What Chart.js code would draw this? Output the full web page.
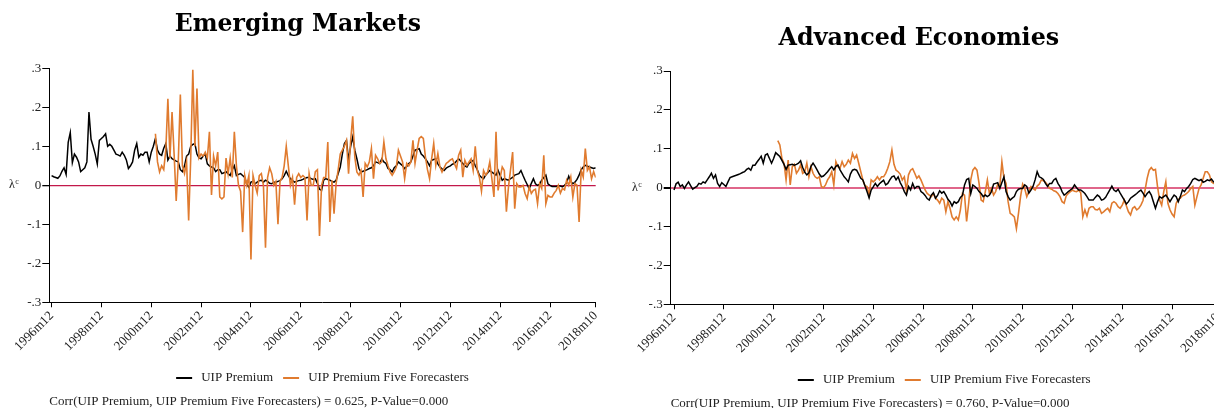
<!DOCTYPE html>
<html>
<head>
<meta charset="utf-8">
<script src="https://cdn.jsdelivr.net/npm/chart.js@4.4.1/dist/chart.umd.min.js"></script>
<style>
  html, body { margin: 0; padding: 0; background: #fff; overflow: hidden; width: 1214px; height: 408px; }
  .panel { position: absolute; top: 0; }
  #emWrap { left: 0; width: 602px; height: 408px; }
  #aeWrap { left: 620px; width: 604px; height: 410px; }
</style>
</head>
<body>
<div id="emWrap" class="panel"><canvas id="emChart"></canvas></div>
<div id="aeWrap" class="panel"><canvas id="aeChart"></canvas></div>
<script>
// Monthly series, month 0 = 1996m12, last month 262 = 2018m10
const tickMonths = [0, 24, 48, 72, 96, 120, 144, 168, 192, 216, 240, 262];
const tickLabels = ['1996m12', '1998m12', '2000m12', '2002m12', '2004m12', '2006m12',
                    '2008m12', '2010m12', '2012m12', '2014m12', '2016m12', '2018m10'];
const yTickVals = [-0.3, -0.2, -0.1, 0, 0.1, 0.2, 0.3];
const yTickText = ['-.3', '-.2', '-.1', '0', '.1', '.2', '.3'];
const seriesNames = ['UIP Premium', 'UIP Premium Five Forecasters'];
const fiveStart = 50; // survey-based series begins in 2001m2

// Emerging markets
const emPremium = [
  0.025,0.022,0.020,0.018,0.024,0.036,0.045,0.028,0.110,0.135,0.058,0.080,
  0.072,0.060,0.035,0.040,0.045,0.060,0.188,0.118,0.100,0.080,0.055,0.115,
  0.120,0.125,0.132,0.100,0.105,0.100,0.090,0.080,0.078,0.075,0.085,0.077,
  0.065,0.043,0.050,0.060,0.090,0.107,0.072,0.080,0.077,0.085,0.085,0.060,
  0.085,0.100,0.120,0.090,0.080,0.077,0.095,0.107,0.065,0.075,0.068,0.065,
  0.062,0.060,0.040,0.035,0.050,0.075,0.080,0.100,0.105,0.107,0.080,0.070,
  0.068,0.075,0.080,0.055,0.050,0.047,0.045,0.035,0.040,0.040,0.030,0.032,
  0.035,0.030,0.025,0.040,0.050,0.025,0.028,0.030,0.025,0.020,0.002,-0.005,
  0.008,0.010,0.004,0.008,0.012,0.013,0.008,0.013,0.010,0.005,0.004,0.008,
  0.008,0.010,0.012,0.017,0.025,0.036,0.025,0.017,0.012,0.008,0.010,0.012,
  0.013,0.015,0.018,0.020,0.020,0.017,0.015,0.017,0.005,-0.010,-0.013,0.013,
  0.017,0.015,0.013,0.010,0.008,0.013,0.030,0.047,0.080,0.107,0.115,0.064,
  0.100,0.124,0.090,0.068,0.043,0.034,0.036,0.038,0.040,0.043,0.045,0.050,
  0.060,0.058,0.056,0.068,0.060,0.056,0.043,0.040,0.034,0.045,0.050,0.060,
  0.055,0.050,0.043,0.048,0.056,0.060,0.075,0.090,0.092,0.094,0.080,0.075,
  0.068,0.060,0.050,0.064,0.066,0.068,0.055,0.047,0.042,0.038,0.044,0.047,
  0.050,0.054,0.056,0.062,0.068,0.062,0.056,0.050,0.047,0.056,0.060,0.064,
  0.050,0.040,0.026,0.020,0.017,0.026,0.032,0.038,0.034,0.030,0.026,0.038,
  0.025,0.013,0.017,0.015,0.013,0.017,0.020,0.026,0.028,0.030,0.038,0.025,
  0.013,0.002,-0.009,0.005,0.017,0.004,0.000,0.003,0.013,0.020,0.026,0.004,
  0.000,-0.003,-0.003,-0.003,-0.001,-0.002,-0.004,0.000,0.006,0.023,0.010,0.004,
  0.008,0.015,0.026,0.040,0.047,0.051,0.049,0.047,0.045,0.043,0.045
];
const emFive = [
  0.132,0.060,0.034,0.050,0.040,0.090,0.222,0.070,0.188,0.080,
  -0.040,0.060,0.233,0.050,0.030,0.060,-0.090,0.070,0.296,0.100,
  0.248,0.070,0.080,0.075,0.085,0.070,0.137,-0.025,0.075,0.050,
  0.085,-0.030,-0.035,-0.030,0.070,0.030,0.070,0.020,0.137,0.050,
  0.000,-0.015,-0.120,0.025,0.000,0.025,-0.190,0.025,0.000,-0.020,
  0.025,0.030,0.000,-0.160,0.020,0.045,0.030,0.000,0.010,-0.100,
  0.010,0.020,0.050,0.100,0.050,0.000,0.020,-0.050,0.020,0.030,
  0.020,0.025,0.020,-0.090,0.030,0.000,0.000,0.035,0.040,-0.130,
  0.000,0.020,0.020,0.111,-0.094,0.013,-0.073,0.004,0.040,0.080,
  0.090,0.100,0.115,0.030,0.115,0.177,0.073,0.034,0.026,0.038,
  -0.030,0.056,0.047,0.060,0.094,0.017,0.077,0.068,0.056,0.060,
  0.111,0.068,0.050,0.034,0.026,0.035,0.047,0.090,0.075,0.060,
  0.017,0.056,0.050,0.060,0.115,0.056,0.090,0.120,0.125,0.120,
  0.073,0.040,0.017,0.068,0.107,0.051,0.081,0.047,0.034,0.045,
  0.056,0.060,0.065,0.068,0.055,0.043,0.077,0.090,0.021,0.064,
  0.051,0.060,0.068,0.038,0.100,0.038,0.020,-0.015,0.038,0.026,
  0.034,0.060,0.017,-0.030,0.137,-0.013,0.020,0.047,0.038,-0.068,
  -0.004,0.040,0.085,-0.060,0.004,-0.004,-0.004,0.000,-0.021,-0.034,
  -0.004,-0.021,-0.013,-0.010,-0.047,0.004,-0.008,0.077,-0.047,-0.026,
  -0.030,-0.030,-0.020,-0.013,0.000,-0.020,-0.008,-0.012,0.013,0.000,
  0.021,-0.030,0.004,0.000,-0.094,0.038,0.021,0.094,0.038,0.047,
  0.017,0.035,0.020
];

// Advanced economies
const aePremium = [
  -0.006,0.010,0.014,0.003,0.007,-0.002,0.007,0.015,0.005,-0.004,0.000,0.003,
  0.011,0.009,0.015,0.012,0.020,0.028,0.037,0.024,0.033,0.011,0.003,0.013,
  0.008,0.003,0.015,0.026,0.028,0.030,0.032,0.034,0.036,0.039,0.041,0.047,
  0.050,0.045,0.058,0.058,0.066,0.073,0.081,0.063,0.084,0.087,0.075,0.063,
  0.075,0.090,0.085,0.080,0.070,0.060,0.047,0.058,0.059,0.060,0.058,0.060,
  0.063,0.069,0.052,0.040,0.033,0.038,0.055,0.063,0.055,0.045,0.035,0.028,
  0.030,0.035,0.041,0.048,0.054,0.046,0.055,0.058,0.046,0.037,0.028,0.022,
  0.015,0.035,0.045,0.047,0.045,0.035,0.024,0.020,0.005,-0.010,-0.026,-0.006,
  0.002,0.011,0.003,0.010,0.015,0.019,0.007,0.011,0.020,0.028,0.030,0.020,
  0.028,0.013,0.003,-0.010,-0.019,0.003,-0.006,0.011,-0.002,0.003,0.003,-0.010,
  -0.014,-0.020,-0.028,-0.032,-0.019,-0.013,-0.027,-0.020,-0.008,-0.014,-0.010,-0.019,
  -0.030,-0.036,-0.047,-0.036,-0.040,-0.036,-0.025,-0.020,0.007,0.021,0.024,-0.015,
  0.007,0.003,-0.002,-0.010,-0.015,-0.023,-0.019,-0.023,-0.019,-0.010,0.009,0.011,
  0.013,-0.002,0.013,0.028,-0.010,-0.023,-0.032,-0.027,-0.023,-0.010,-0.004,-0.002,
  -0.002,0.007,0.003,-0.014,-0.006,0.003,0.020,0.041,0.028,0.025,0.021,0.011,
  0.003,0.011,0.011,0.020,0.024,0.011,0.003,-0.010,-0.019,-0.015,-0.010,-0.006,
  -0.002,0.007,0.000,-0.006,-0.006,-0.010,-0.015,-0.023,-0.032,-0.032,-0.032,-0.025,
  -0.019,-0.023,-0.032,-0.030,-0.025,-0.015,-0.006,0.004,-0.006,-0.010,-0.004,-0.014,
  -0.023,-0.032,-0.042,-0.036,-0.027,-0.023,-0.019,-0.015,-0.010,-0.006,-0.014,-0.023,
  -0.015,-0.010,-0.019,-0.036,-0.053,-0.036,-0.023,-0.027,-0.023,-0.019,-0.027,-0.036,
  -0.027,-0.019,-0.023,-0.036,-0.023,-0.006,-0.010,-0.002,0.003,0.011,0.021,0.024,
  0.021,0.018,0.021,0.014,0.016,0.020,0.018,0.022,0.015,0.014,0.016
];
const aeFive = [
  0.121,0.110,0.075,0.063,0.020,0.071,0.007,0.054,0.060,0.037,
  0.045,0.058,0.037,0.041,0.063,0.028,0.054,0.037,0.028,0.024,
  0.028,0.003,0.000,0.007,0.020,0.028,0.041,0.007,0.067,0.054,
  0.050,0.067,0.054,0.060,0.071,0.063,0.088,0.075,0.084,0.063,
  0.041,0.020,0.005,0.003,-0.019,0.020,0.015,0.020,0.028,0.020,
  0.028,0.028,0.037,0.050,0.067,0.097,0.060,0.045,0.041,0.035,
  0.020,0.028,-0.006,0.033,0.045,0.049,0.037,0.024,0.030,0.020,
  0.007,-0.006,-0.015,-0.019,-0.023,-0.015,-0.027,-0.032,-0.040,-0.027,
  -0.032,-0.062,-0.036,-0.053,-0.075,-0.083,-0.075,-0.083,-0.057,-0.015,
  -0.019,-0.087,-0.040,0.020,0.045,0.052,0.045,0.011,-0.032,-0.036,
  -0.010,0.020,-0.015,-0.002,-0.019,-0.010,0.009,0.003,0.067,0.024,
  0.011,-0.036,-0.066,-0.070,-0.075,-0.105,-0.066,-0.023,0.009,-0.002,
  -0.023,-0.010,0.003,-0.002,-0.006,0.004,0.009,0.020,0.018,0.014,
  0.007,-0.002,-0.004,-0.008,-0.010,-0.015,-0.023,-0.036,-0.040,-0.021,
  -0.015,-0.010,-0.006,-0.009,-0.010,-0.006,-0.013,-0.075,-0.057,-0.073,
  -0.053,-0.049,-0.049,-0.056,-0.057,-0.053,-0.066,-0.062,-0.057,-0.053,
  -0.062,-0.040,-0.036,-0.040,-0.049,-0.053,-0.045,-0.032,-0.047,-0.062,
  -0.070,-0.053,-0.049,-0.057,-0.053,-0.045,-0.033,-0.006,0.024,0.045,
  0.052,0.045,0.047,0.003,-0.032,-0.045,-0.010,0.015,-0.040,-0.057,
  -0.068,-0.075,-0.040,-0.030,-0.027,-0.021,-0.019,-0.015,-0.010,-0.002,
  0.003,-0.045,-0.023,-0.002,0.007,0.024,0.041,0.041,0.033,0.015,
  0.011,0.012,0.015
];

const serif = "'Liberation Serif', 'Times New Roman', serif";
const titleFont = "'DejaVu Serif', serif";
const black = '#000000';
const orange = '#e07b2f';

function toPoints(values, start) {
  return values.map((v, i) => ({ x: start + i, y: v }));
}

// Upright lambda-c label to the left of the y axis, level with zero
const yLabelPlugin = {
  id: 'yLabel',
  afterDraw(chart, args, opts) {
    const ctx = chart.ctx;
    const y = chart.scales.y.getPixelForValue(0);
    ctx.save();
    ctx.fillStyle = '#222';
    ctx.textBaseline = 'middle';
    ctx.textAlign = 'left';
    ctx.font = '12px ' + serif;
    ctx.fillText('λ', opts.x, y);
    const w = ctx.measureText('λ').width;
    ctx.font = '8px ' + serif;
    ctx.fillText('c', opts.x + w + 0.5, y - 3);
    ctx.restore();
  }
};

function buildChart(id, p) {
  const datasets = [
    { label: seriesNames[0], data: toPoints(p.premium, 0), borderColor: black, backgroundColor: black,
      borderWidth: 1.5, pointRadius: 0, tension: 0, order: p.orangeOnTop ? 1 : 0 },
    { label: seriesNames[1], data: toPoints(p.five, fiveStart), borderColor: orange, backgroundColor: orange,
      borderWidth: 1.6, pointRadius: 0, tension: 0, order: p.orangeOnTop ? 0 : 1 }
  ];
  return new Chart(document.getElementById(id), {
    type: 'line',
    data: { datasets },
    plugins: [yLabelPlugin],
    options: {
      responsive: true,
      maintainAspectRatio: false,
      animation: false,
      events: [],
      layout: { padding: { left: 0, right: p.padRight, top: 0, bottom: 0 } },
      plugins: {
        title: {
          display: true, text: p.title, color: '#000',
          font: { family: titleFont, size: p.titleSize, weight: 'bold', lineHeight: 1.2 },
          padding: { top: p.titleTop, bottom: p.titleBottom }
        },
        subtitle: {
          display: true, position: 'bottom', align: 'start', fullSize: false,
          text: p.note, color: '#222',
          font: { family: serif, size: 13, lineHeight: 1.04 },
          padding: 0
        },
        legend: {
          position: 'bottom', fullSize: false,
          labels: {
            boxWidth: 16, boxHeight: 2, padding: 10, color: '#222',
            font: { family: serif, size: 13 },
            sort: (a, b) => a.datasetIndex - b.datasetIndex,
            generateLabels: chart => Chart.defaults.plugins.legend.labels.generateLabels(chart)
              .map(l => Object.assign({}, l, { text: '\u2009' + l.text, lineWidth: 0, fillStyle: l.strokeStyle }))
          }
        },
        tooltip: { enabled: false },
        yLabel: { x: p.lambdaX }
      },
      scales: {
        x: {
          type: 'linear', min: p.xMin, max: 262,
          afterBuildTicks: s => { s.ticks = tickMonths.map(v => ({ value: v })); },
          afterFit: s => { s.height = 59.2; s.paddingLeft = 0; s.paddingRight = 0; },
          ticks: {
            autoSkip: false, maxRotation: 45, minRotation: 45, padding: 1, color: '#222',
            font: { family: serif, size: 13 },
            callback: (v, i) => tickLabels[i]
          },
          grid: { drawOnChartArea: false, drawTicks: true, tickLength: 5, tickColor: '#000' },
          border: { display: true, color: '#000', width: 1 }
        },
        y: {
          type: 'linear', min: -0.3, max: 0.3,
          afterBuildTicks: s => { s.ticks = yTickVals.map(v => ({ value: v })); },
          afterFit: s => { s.width = p.yWidth; },
          ticks: {
            padding: 1, color: '#222',
            font: { family: serif, size: 13 },
            callback: (v, i) => yTickText[i]
          },
          grid: {
            drawTicks: true, tickLength: 7, tickColor: '#000',
            color: c => (c.tick && c.tick.value === 0) ? p.zeroColor : 'rgba(0,0,0,0)',
            lineWidth: c => (c.tick && c.tick.value === 0) ? p.zeroWidth : 1
          },
          border: { display: true, color: '#000', width: 1 }
        }
      }
    }
  });
}

buildChart('emChart', {
  title: 'Emerging Markets',
  note: 'Corr(UIP Premium, UIP Premium Five Forecasters) = 0.625, P-Value=0.000',
  premium: emPremium, five: emFive,
  titleSize: 23.5, titleTop: 10.7, titleBottom: 29.4,
  xMin: -1.1, yWidth: 49.3, padRight: 6.3,
  zeroColor: '#c2184a', zeroWidth: 1.3, lambdaX: 9,
  orangeOnTop: true
});

buildChart('aeChart', {
  title: 'Advanced Economies',
  note: 'Corr(UIP Premium, UIP Premium Five Forecasters) = 0.760, P-Value=0.000',
  premium: aePremium, five: aeFive,
  titleSize: 23.8, titleTop: 24.5, titleBottom: 18.0,
  xMin: -1.6, yWidth: 50.7, padRight: 6.3,
  zeroColor: '#e0668a', zeroWidth: 2, lambdaX: 12,
  orangeOnTop: false
});
</script>
</body>
</html>
